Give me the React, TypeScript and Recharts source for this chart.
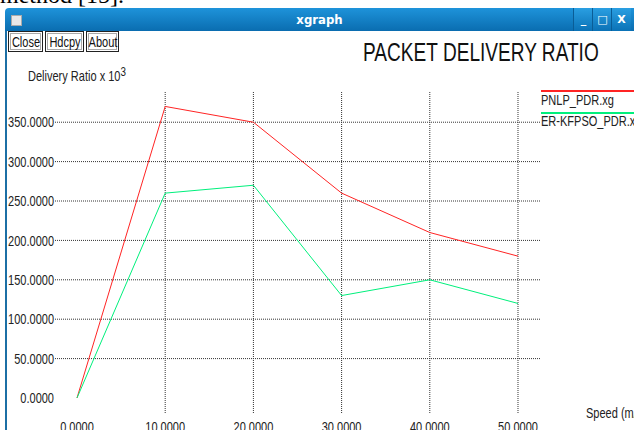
import React from "react";
import { LineChart, Line, XAxis, YAxis, ReferenceLine } from "recharts";

const speeds = [0, 10, 20, 30, 40, 50];
const pnlpPdr = [0, 370, 350, 260, 210, 180];
const erKfpsoPdr = [0, 260, 270, 130, 150, 120];
const xTicks = [0, 10, 20, 30, 40, 50];
const yTicks = [0, 50, 100, 150, 200, 250, 300, 350];
const xGrid = [10, 20, 30, 40, 50];
const yGrid = [50, 100, 150, 200, 250, 300, 350];
const seriesInfo = [
  { key: "pnlp", name: "PNLP_PDR.xg", color: "#ff2424" },
  { key: "erk", name: "ER-KFPSO_PDR.xg", color: "#00f07c" },
];

const data = speeds.map((s, i) => ({ speed: s, pnlp: pnlpPdr[i], erk: erKfpsoPdr[i] }));

const FONT = "'Liberation Sans', Arial, sans-serif";
const FS = 14.5;
const SX = 0.76;

const XTick = (props: any) => {
  const { x, y, payload } = props;
  return (
    <text
      transform={`translate(${x},${y + 17}) scale(${SX},1)`}
      textAnchor="middle"
      fontFamily={FONT}
      fontSize={FS}
      fill="#222"
    >
      {Number(payload.value).toFixed(4)}
    </text>
  );
};

const YTick = (props: any) => {
  const { x, y, payload } = props;
  return (
    <text
      transform={`translate(${x},${y + 5.2}) scale(${SX},1)`}
      textAnchor="end"
      fontFamily={FONT}
      fontSize={FS}
      fill="#222"
    >
      {Number(payload.value).toFixed(4)}
    </text>
  );
};

// capTop: y of the top of capital letters
const T = ({
  left,
  capTop,
  size = FS,
  sx = SX,
  color = "#222",
  children,
}: {
  left: number;
  capTop: number;
  size?: number;
  sx?: number;
  color?: string;
  children: React.ReactNode;
}) => (
  <div
    style={{
      position: "absolute",
      left,
      top: capTop - 0.13 * size,
      fontFamily: FONT,
      fontSize: size,
      lineHeight: 1,
      color,
      whiteSpace: "nowrap",
      transform: `scaleX(${sx})`,
      transformOrigin: "0 0",
    }}
  >
    {children}
  </div>
);

const Btn = ({ left, width, label }: { left: number; width: number; label: string }) => (
  <div
    style={{
      position: "absolute",
      left,
      top: 31,
      width,
      height: 21,
      border: "1px solid #222",
      boxShadow: "inset 0 0 0 1px #fff, inset 0 0 0 2px #aaa",
      boxSizing: "border-box",
      background: "#fff",
      overflow: "visible",
    }}
  >
    <div
      style={{
        position: "absolute",
        left: "50%",
        top: 2.6,
        fontFamily: FONT,
        fontSize: FS,
        lineHeight: 1,
        color: "#111",
        whiteSpace: "nowrap",
        transform: `translateX(-50%) scaleX(${SX})`,
      }}
    >
      {label}
    </div>
  </div>
);

export default function App() {
  return (
    <div
      style={{
        position: "absolute",
        left: 0,
        top: 0,
        width: 634,
        height: 430,
        overflow: "hidden",
        background: "#fff",
      }}
    >
      <div
        style={{
          position: "absolute",
          left: 0,
          top: -17,
          fontFamily: "'Liberation Serif', serif",
          fontSize: 24,
          lineHeight: "24px",
          color: "#000",
          whiteSpace: "nowrap",
        }}
      >
        method [15].
      </div>
      <div
        style={{
          position: "absolute",
          left: 5,
          top: 8,
          width: 629,
          height: 23,
          background: "linear-gradient(#1e93da, #0a6db0)",
          borderTopLeftRadius: 4,
        }}
      >
        <div
          style={{
            position: "absolute",
            left: 6,
            top: 7,
            width: 9,
            height: 9,
            background: "#e8e8e8",
            border: "1px solid #aaa",
          }}
        />
        <div
          style={{
            position: "absolute",
            left: 0,
            width: 629,
            top: 0,
            lineHeight: "23px",
            textAlign: "center",
            fontFamily: "'DejaVu Sans Condensed', 'DejaVu Sans', sans-serif",
            fontStretch: "condensed",
            fontWeight: "bold",
            fontSize: 13,
            color: "#fff",
          }}
        >
          xgraph
        </div>
        {["_", "□", "X"].map((c, i) => (
          <div
            key={c}
            style={{
              position: "absolute",
              left: 568 + i * 19,
              top: 0,
              width: 19,
              height: 23,
              borderLeft: "1px solid #0a5d96",
              background: "linear-gradient(#2a9fe2, #0b72b6)",
              color: "#fff",
              fontFamily: "'DejaVu Sans', sans-serif",
              fontWeight: "bold",
              fontSize: 11,
              lineHeight: "23px",
              textAlign: "center",
            }}
          >
            {c}
          </div>
        ))}
      </div>
      <div style={{ position: "absolute", left: 5, top: 31, width: 2, height: 399, background: "#1c6fa5" }} />
      <Btn left={8} width={35} label="Close" />
      <Btn left={45} width={39} label="Hdcpy" />
      <Btn left={86} width={33} label="About" />
      <T left={363} capTop={42.7} size={26.5} sx={0.72} color="#111">
        PACKET DELIVERY RATIO
      </T>
      <T left={28} capTop={70.5}>
        Delivery Ratio x 10
        <span style={{ fontSize: 13, position: "relative", top: -5 }}>3</span>
      </T>
      <T left={586} capTop={408}>
        Speed (m/s)
      </T>
      {seriesInfo.map((s, i) => (
        <React.Fragment key={s.key}>
          <div
            style={{
              position: "absolute",
              left: 541,
              top: 90 + i * 22,
              width: 93,
              height: 2,
              background: s.color,
            }}
          />
          <T left={541} capTop={95 + i * 20.5}>
            {s.name}
          </T>
        </React.Fragment>
      ))}
      <div style={{ position: "absolute", left: 0, top: 0 }}>
        <LineChart
          width={634}
          height={430}
          data={data}
          margin={{ top: 91, right: 93, bottom: 0, left: 0 }}
        >
          <XAxis
            dataKey="speed"
            type="number"
            domain={[-2.494, 52.608]}
            ticks={xTicks}
            allowDataOverflow
            axisLine={false}
            tickLine={false}
            tickSize={0}
            height={17}
            tick={XTick}
            interval={0}
          />
          <YAxis
            type="number"
            domain={[-19.04, 389.6]}
            ticks={yTicks}
            allowDataOverflow
            axisLine={false}
            tickLine={false}
            tickSize={0}
            tickMargin={1}
            width={55}
            tick={YTick}
            interval={0}
          />
          {xGrid.map((v) => (
            <ReferenceLine key={"x" + v} x={v} stroke="#333" strokeDasharray="1 1" />
          ))}
          {yGrid.map((v) => (
            <ReferenceLine key={"y" + v} y={v} stroke="#333" strokeDasharray="1 1" />
          ))}
          {seriesInfo.map((s) => (
            <Line
              key={s.key}
              dataKey={s.key}
              stroke={s.color}
              strokeWidth={1}
              dot={false}
              isAnimationActive={false}
            />
          ))}
        </LineChart>
      </div>
    </div>
  );
}
